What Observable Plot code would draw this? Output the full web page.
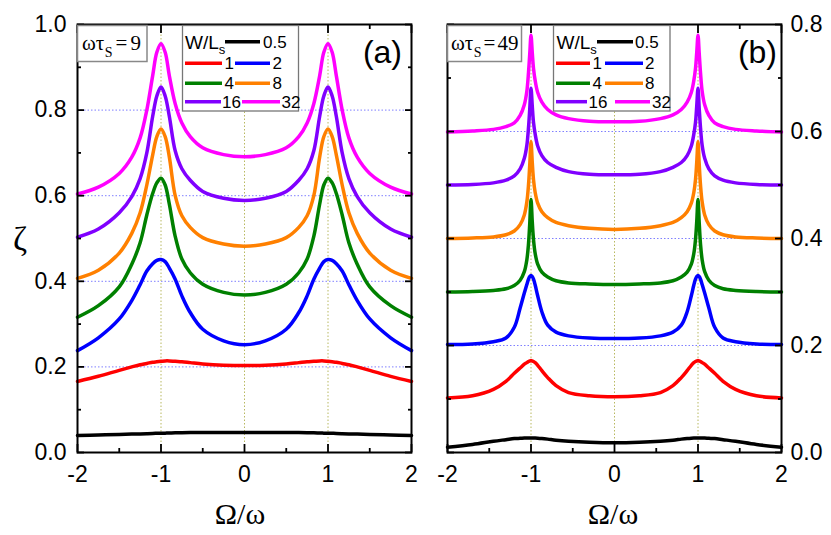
<!DOCTYPE html>
<html><head><meta charset="utf-8">
<script src="https://cdn.jsdelivr.net/npm/d3@7"></script>
<script src="https://cdn.jsdelivr.net/npm/@observablehq/plot@0.6"></script>
<style>
html,body{margin:0;padding:0;background:#fff;}
#wrap{position:relative;width:831px;height:535px;overflow:hidden;}
#wrap > svg{position:absolute;top:0;}
</style></head><body><div id="wrap"></div>
<script>
// ---- data ----
const seriesLabels = ["0.5","1","2","4","8","16","32"];
const seriesColors = ["#000000","#ff0000","#0000ff","#008000","#ff8000","#8000ff","#ff00ff"];

// panel (a): omega tau_s = 9
const xA = [-2,-1.75,-1.5,-1.35,-1.25,-1.17,-1.1,-1.05,-1,-0.95,-0.9,-0.83,-0.75,-0.65,-0.5,-0.25,0,0.25,0.5,0.65,0.75,0.83,0.9,0.95,1,1.05,1.1,1.17,1.25,1.35,1.5,1.75,2];
const a05 = [0.040,0.041,0.042,0.043,0.0435,0.044,0.0445,0.0448,0.045,0.0452,0.0455,0.046,0.0462,0.0465,0.0468,0.047,0.047,0.047,0.0468,0.0465,0.0462,0.046,0.0455,0.0452,0.045,0.0448,0.0445,0.044,0.0435,0.043,0.042,0.041,0.040];
const a1  = [0.166,0.178,0.192,0.200,0.205,0.208,0.211,0.212,0.213,0.214,0.214,0.213,0.212,0.210,0.207,0.204,0.203,0.204,0.207,0.210,0.212,0.213,0.214,0.214,0.213,0.212,0.211,0.208,0.205,0.200,0.192,0.178,0.166];
const a2  = [0.238,0.268,0.312,0.355,0.392,0.424,0.441,0.449,0.451,0.446,0.431,0.405,0.366,0.327,0.288,0.261,0.252,0.261,0.288,0.327,0.366,0.405,0.431,0.446,0.451,0.449,0.441,0.424,0.392,0.355,0.312,0.268,0.238];
const a4  = [0.316,0.343,0.387,0.440,0.490,0.555,0.605,0.630,0.641,0.625,0.580,0.505,0.452,0.420,0.393,0.374,0.368,0.374,0.393,0.420,0.452,0.505,0.580,0.625,0.641,0.630,0.605,0.555,0.490,0.440,0.387,0.343,0.316];
const a8  = [0.407,0.426,0.466,0.512,0.560,0.625,0.695,0.738,0.756,0.738,0.690,0.600,0.553,0.526,0.502,0.487,0.482,0.487,0.502,0.526,0.553,0.600,0.690,0.738,0.756,0.738,0.695,0.625,0.560,0.512,0.466,0.426,0.407];
const a16 = [0.503,0.522,0.560,0.598,0.640,0.700,0.785,0.833,0.854,0.833,0.785,0.705,0.663,0.636,0.610,0.594,0.589,0.594,0.610,0.636,0.663,0.705,0.785,0.833,0.854,0.833,0.785,0.700,0.640,0.598,0.560,0.522,0.503];
const a32 = [0.604,0.620,0.652,0.690,0.735,0.800,0.880,0.935,0.955,0.935,0.880,0.815,0.770,0.738,0.712,0.696,0.691,0.696,0.712,0.738,0.770,0.815,0.880,0.935,0.955,0.935,0.880,0.800,0.735,0.690,0.652,0.620,0.604];

// panel (b): omega tau_s = 49
const xB = [-2,-1.7,-1.45,-1.3,-1.2,-1.13,-1.08,-1.05,-1.03,-1.015,-1,-0.985,-0.97,-0.95,-0.92,-0.87,-0.8,-0.7,-0.55,-0.3,0,0.3,0.55,0.7,0.8,0.87,0.92,0.95,0.97,0.985,1,1.015,1.03,1.05,1.08,1.13,1.2,1.3,1.45,1.7,2];
const b05 = [0.010,0.015,0.021,0.024,0.026,0.0265,0.027,0.027,0.027,0.027,0.027,0.027,0.027,0.027,0.0268,0.0262,0.025,0.023,0.021,0.019,0.018,0.019,0.021,0.023,0.025,0.0262,0.0268,0.027,0.027,0.027,0.027,0.027,0.027,0.027,0.027,0.0265,0.026,0.024,0.021,0.015,0.010];
const b1  = [0.102,0.106,0.118,0.133,0.148,0.158,0.165,0.168,0.170,0.171,0.172,0.171,0.170,0.168,0.163,0.153,0.140,0.125,0.112,0.106,0.104,0.106,0.112,0.125,0.140,0.153,0.163,0.168,0.170,0.171,0.172,0.171,0.170,0.168,0.165,0.158,0.148,0.133,0.118,0.106,0.102];
const b2  = [0.202,0.203,0.207,0.214,0.234,0.270,0.298,0.314,0.324,0.329,0.331,0.329,0.324,0.313,0.293,0.263,0.238,0.225,0.218,0.214,0.213,0.214,0.218,0.225,0.238,0.263,0.293,0.313,0.324,0.329,0.331,0.329,0.324,0.314,0.298,0.270,0.234,0.214,0.207,0.203,0.202];
const b4  = [0.300,0.301,0.303,0.306,0.312,0.322,0.338,0.360,0.390,0.428,0.473,0.432,0.398,0.372,0.352,0.337,0.328,0.321,0.317,0.315,0.314,0.315,0.317,0.321,0.328,0.337,0.352,0.372,0.398,0.432,0.473,0.428,0.390,0.360,0.338,0.322,0.312,0.306,0.303,0.301,0.300];
const b8  = [0.400,0.401,0.403,0.407,0.414,0.426,0.444,0.468,0.500,0.538,0.581,0.543,0.510,0.486,0.466,0.450,0.439,0.430,0.424,0.419,0.417,0.419,0.424,0.430,0.439,0.450,0.466,0.486,0.510,0.543,0.581,0.538,0.500,0.468,0.444,0.426,0.414,0.407,0.403,0.401,0.400];
const b16 = [0.500,0.501,0.504,0.509,0.517,0.530,0.550,0.574,0.607,0.642,0.681,0.648,0.617,0.595,0.573,0.555,0.542,0.533,0.525,0.520,0.519,0.520,0.525,0.533,0.542,0.555,0.573,0.595,0.617,0.648,0.681,0.642,0.607,0.574,0.550,0.530,0.517,0.509,0.504,0.501,0.500];
const b32 = [0.599,0.601,0.604,0.609,0.616,0.630,0.650,0.675,0.710,0.745,0.780,0.748,0.718,0.695,0.673,0.655,0.641,0.631,0.624,0.619,0.618,0.619,0.624,0.631,0.641,0.655,0.673,0.695,0.718,0.748,0.780,0.745,0.710,0.675,0.650,0.630,0.616,0.609,0.604,0.601,0.599];

// ticks
const ticksX = [-2,-1,0,1,2];
const minorX = [-1.5,-0.5,0.5,1.5];
const gridX = [-1,0,1];
const ticksYa = [0,0.2,0.4,0.6,0.8,1.0];
const minorYa = [0.1,0.3,0.5,0.7,0.9];
const gridYa = [0.2,0.4,0.6,0.8];
const ticksYb = [0,0.2,0.4,0.6,0.8];
const minorYb = [0.1,0.3,0.5,0.7];
const gridYb = [0.2,0.4,0.6];

function rows(xs, list){
  return list.flatMap((ys,k)=> xs.map((x,i)=>({x, y: ys[i], s: seriesLabels[k]})));
}
const dataA = rows(xA,[a05,a1,a2,a4,a8,a16,a32]);
const dataB = rows(xB,[b05,b1,b2,b4,b8,b16,b32]);

const fmt = d3.format(".1f");
const style = {fontFamily:"'Liberation Sans', Arial, sans-serif", fontSize:"23px", background:"transparent", color:"#000", overflow:"visible"};
const tk = {fill:"none", label:null, strokeWidth:1.8};

function frameTicks(yT, yM){
  return [
    Plot.axisY(yT, {anchor:"left", tickSize:7, dx:7, ...tk}),
    Plot.axisY(yM, {anchor:"left", tickSize:4, dx:4, ...tk}),
    Plot.axisY(yT, {anchor:"right", tickSize:7, dx:-7, ...tk}),
    Plot.axisY(yM, {anchor:"right", tickSize:4, dx:-4, ...tk}),
    Plot.axisX(ticksX, {anchor:"bottom", tickSize:8, dy:-8, ...tk}),
    Plot.axisX(minorX, {anchor:"bottom", tickSize:4, dy:-4, ...tk}),
    Plot.axisX(ticksX, {anchor:"top", tickSize:8, dy:8, ...tk}),
    Plot.axisX(minorX, {anchor:"top", tickSize:4, dy:4, ...tk}),
    Plot.axisX(ticksX, {anchor:"bottom", tickSize:0, tickPadding:13, tickFormat:d=>String(d), label:null})
  ];
}

const plotA = Plot.plot({
  width:420, height:480, marginLeft:77, marginRight:9, marginTop:24, marginBottom:28,
  style,
  x:{domain:[-2,2], label:null},
  y:{domain:[0,1], label:null},
  color:{domain:seriesLabels, range:seriesColors},
  marks:[
    Plot.ruleY(gridYa, {stroke:"#7f7fff", strokeWidth:1, strokeDasharray:"1.5,2"}),
    Plot.ruleX(gridX, {stroke:"#b8b860", strokeWidth:1, strokeDasharray:"1.5,2"}),
    Plot.line(dataA, {x:"x", y:"y", z:"s", stroke:"s", strokeWidth:3.5, curve:"catmull-rom"}),
    Plot.frame({strokeWidth:2}),
    ...frameTicks(ticksYa, minorYa),
    Plot.axisY(ticksYa, {anchor:"left", tickSize:0, tickPadding:11, tickFormat:fmt, label:null})
  ]
});
plotA.style.left = "0px";

const plotB = Plot.plot({
  width:411, height:480, marginLeft:27, marginRight:50, marginTop:24, marginBottom:28,
  style,
  x:{domain:[-2,2], label:null},
  y:{domain:[0,0.8], label:null},
  color:{domain:seriesLabels, range:seriesColors},
  marks:[
    Plot.ruleY(gridYb, {stroke:"#7f7fff", strokeWidth:1, strokeDasharray:"1.5,2"}),
    Plot.ruleX(gridX, {stroke:"#b8b860", strokeWidth:1, strokeDasharray:"1.5,2"}),
    Plot.line(dataB, {x:"x", y:"y", z:"s", stroke:"s", strokeWidth:3.5, curve:"catmull-rom"}),
    Plot.frame({strokeWidth:2}),
    ...frameTicks(ticksYb, minorYb),
    Plot.axisY(ticksYb, {anchor:"right", tickSize:0, tickPadding:9, tickFormat:fmt, label:null})
  ]
});
plotB.style.left = "420px";

const wrap = document.getElementById("wrap");
wrap.appendChild(plotA);
wrap.appendChild(plotB);

// ---- overlay: legends, boxes, labels ----
const ov = d3.select(wrap).append("svg")
  .attr("width",831).attr("height",535)
  .style("position","absolute").style("left","0px").style("top","0px");
const sans = "'Liberation Sans', Arial, sans-serif";
const serif = "'Liberation Serif', 'Times New Roman', serif";

function legend(L){
  ov.append("rect").attr("x",L.box[0]).attr("y",L.box[1]).attr("width",L.box[2]).attr("height",L.box[3])
    .attr("fill","#fff").attr("stroke","#777").attr("stroke-width",1.3);
  const t = ov.append("text").attr("x",L.head[0]).attr("y",L.head[1]).attr("font-family",sans).attr("font-size",19).text("W/L");
  t.append("tspan").attr("font-size",13).attr("dy",5).text("s");
  L.items.forEach((it,k)=>{
    ov.append("line").attr("x1",it[0]).attr("x2",it[1]).attr("y1",it[2]).attr("y2",it[2])
      .attr("stroke",seriesColors[k]).attr("stroke-width",3.5);
    ov.append("text").attr("x",it[3]).attr("y",it[2]+6).attr("font-family",sans).attr("font-size",17).text(seriesLabels[k]);
  });
}
legend({box:[182.5,25.5,116,85.5], head:[185,48.5], items:[
  [225,260,41.7,263],[185,222,63.3,224.5],[235,270,63.3,272.5],[185,222,83.3,224.5],[235,270,83.3,272.5],[185,221,101.7,222],[242,280,101.7,281.5]
]});
legend({box:[553.5,25.5,116.5,85.5], head:[556.5,48.5], items:[
  [597,633,41.7,635],[556,590,63.3,592.5],[605,643,63.3,645],[556,590,83.3,592.5],[605,643,83.3,645],[556,587,101.7,588.5],[615,650,101.7,652]
]});

function tauBox(b, x0, gap, val){
  ov.append("rect").attr("x",b[0]).attr("y",b[1]).attr("width",b[2]).attr("height",b[3])
    .attr("fill","#fff").attr("stroke","#888").attr("stroke-width",1.5);
  const g = ov.append("text").attr("font-family",serif).attr("font-size",21).attr("x",x0).attr("y",50);
  g.append("tspan").text("ωτ");
  g.append("tspan").attr("dy",7).attr("dx",0.5).attr("font-size",14).text("S");
  g.append("tspan").attr("dy",-7).attr("dx",gap).text("=");
  g.append("tspan").attr("dx",gap).text(val);
}
tauBox([77.5,25.5,69.5,36], 82, 3, "9");
tauBox([447.5,25.5,74,36], 451, 2, "49");

ov.append("text").attr("x",402).attr("y",63).attr("text-anchor","end").attr("font-family",sans).attr("font-size",32).text("(a)");
ov.append("text").attr("x",777).attr("y",63).attr("text-anchor","end").attr("font-family",sans).attr("font-size",32).text("(b)");
ov.append("text").attr("x",20).attr("y",250).attr("text-anchor","middle").attr("font-family",serif).attr("font-size",34).text("ζ");
ov.append("text").attr("x",240).attr("y",524).attr("text-anchor","middle").attr("font-family",serif).attr("font-size",30).text("Ω/ω");
ov.append("text").attr("x",613).attr("y",524).attr("text-anchor","middle").attr("font-family",serif).attr("font-size",30).text("Ω/ω");
</script>
</body></html>
